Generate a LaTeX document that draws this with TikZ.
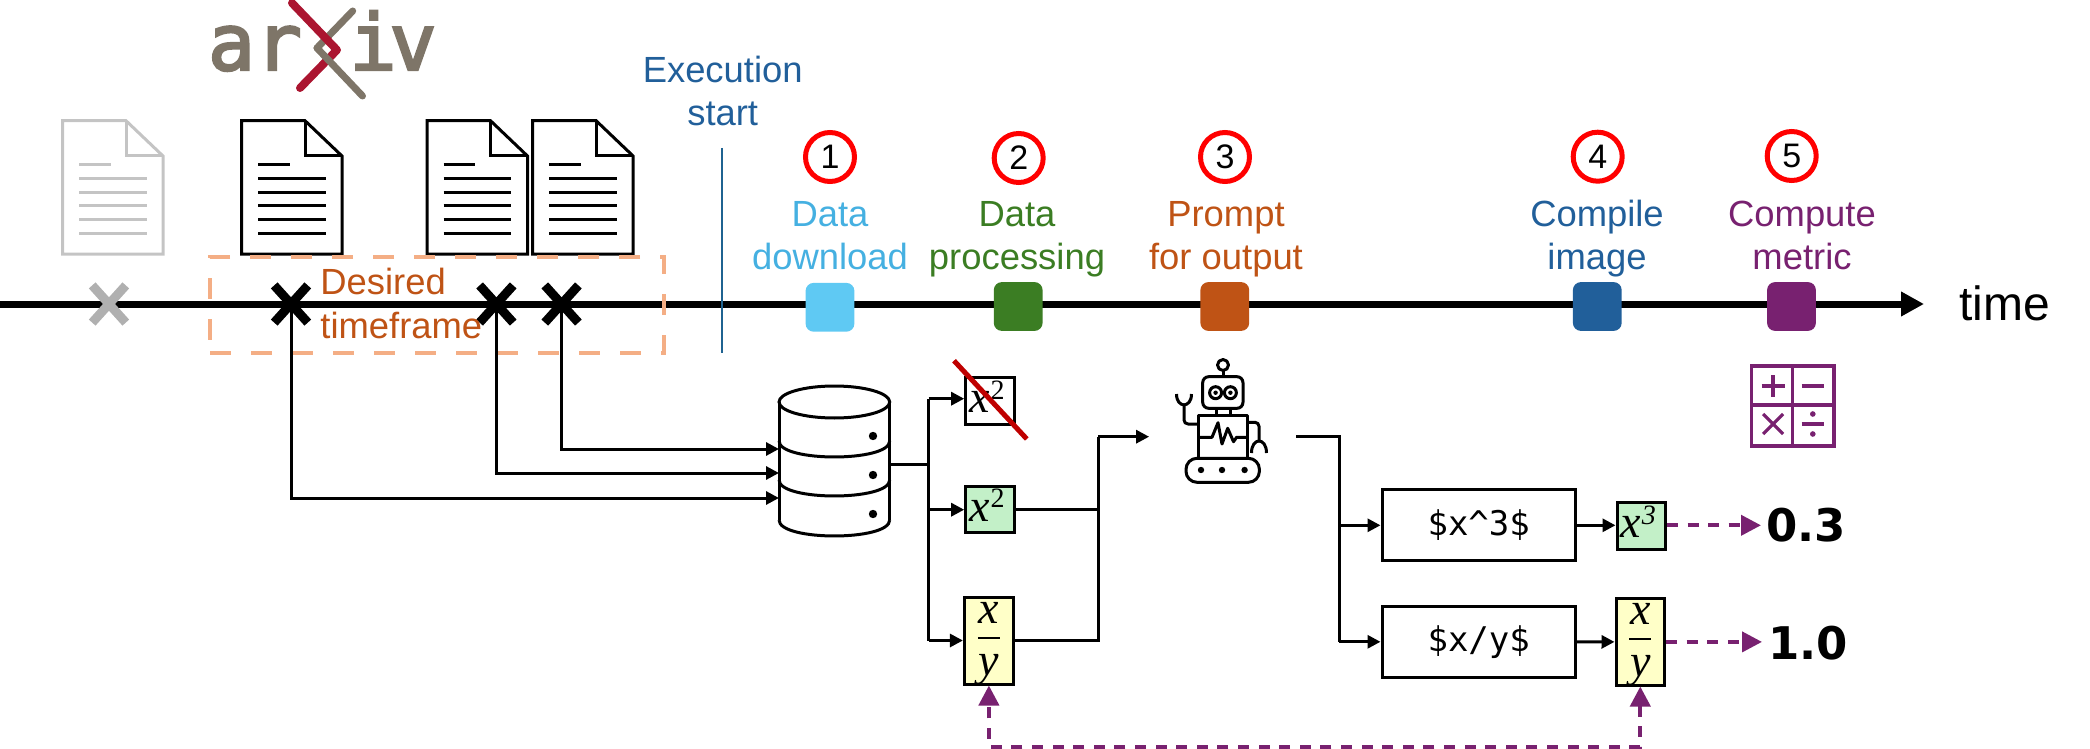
\documentclass[tikz,border=0pt]{standalone}
\usepackage{fontspec}
\setmainfont{Liberation Sans}
\newfontfamily\codefont{DejaVu Sans Mono}
\newfontfamily\logofont[FakeBold=3]{DejaVu Sans Mono}
\newfontfamily\valfont{DejaVu Sans}
\newfontfamily\exprfont{Liberation Serif}
\usetikzlibrary{arrows.meta}
\definecolor{cSky}{HTML}{5FC9F3}
\definecolor{cSkyT}{HTML}{45B0E1}
\definecolor{cGreen}{HTML}{3B7D23}
\definecolor{cOrange}{HTML}{BF5315}
\definecolor{cBlue}{HTML}{215F9A}
\definecolor{cPurple}{HTML}{782170}
\definecolor{cFrame}{HTML}{F4AE85}
\definecolor{cExec}{HTML}{1F6391}
\definecolor{cLogo}{HTML}{7E7568}
\definecolor{cLogoRed}{HTML}{AB1530}
\definecolor{cDocGray}{HTML}{C4C4C4}
\definecolor{cCross}{HTML}{B0B0B0}
\definecolor{cMint}{HTML}{C3F0C8}
\definecolor{cCream}{HTML}{FFFFC8}
\newcommand{\lblsize}{\fontsize{18.2}{21.8}\selectfont}
\newcommand{\mvar}[1]{\hbox{\exprfont\itshape\fontsize{23}{25}\selectfont #1}}
\newcommand{\msup}[2]{\hbox{\mvar{x}\kern0.5pt\raisebox{6.8pt}{\exprfont#2\fontsize{14}{16}\selectfont #1}\kern3pt}}
\newcommand{\mfrac}{${\rule[-5.5pt]{0pt}{5.5pt}\hbox to 11pt{\hss\mvar{x}\hss}\above1.2pt\rule{0pt}{17pt}\hbox to 11pt{\hss\mvar{y}\hss}}$}
\tikzset{
  label text/.style={font=\lblsize, align=center, anchor=base, inner sep=0pt},
  stepmark/.style={draw=red, line width=2.5pt, circle, fill=white, minimum size=24.5pt, inner sep=0pt, font=\fontsize{17}{18}\selectfont},
  stepsq/.style={rectangle, rounded corners=4pt, minimum width=24.4pt, minimum height=24.4pt, inner sep=0pt},
  conn/.style={line width=1.5pt, -{Triangle[length=6.5pt,width=6.5pt]}},
  plain/.style={line width=1.5pt},
  metricarrow/.style={cPurple, line width=2pt, dash pattern=on 5.5pt off 4.8pt, -{Triangle[length=10pt,width=10pt]}},
  exprbox/.style={draw, line width=1.5pt, inner sep=0pt, font=\fontsize{21}{24}\selectfont},
  supbox/.style={exprbox, text height=15.9pt, text depth=4.1pt},
  fracbox/.style={exprbox, text height=23.85pt, text depth=16.15pt},
  promptbox/.style={draw, line width=1.5pt, inner sep=0pt, minimum width=96.7pt, minimum height=35.6pt, font=\codefont\fontsize{17}{18}\selectfont},
  value/.style={anchor=base, inner sep=0pt, font=\valfont\bfseries\fontsize{22.5}{24}\selectfont},
  docpic/.pic={
    \draw[pic actions, line width=1.5pt, line join=miter] (0,0) -- (63.5,0) -- (100.5,35.3) -- (100.5,133.3) -- (0,133.3) -- cycle;
    \draw[pic actions, line width=1.5pt] (63.5,0) -- (63.5,35.3) -- (100.5,35.3);
    \draw[pic actions, line width=1.5pt] (16.5,44.3) -- (48,44.3);
    \foreach \yy in {58.3,71.6,85.3,98.6,112.3} \draw[pic actions, line width=1.5pt] (16.5,\yy) -- (84,\yy);
  },
  crosspic/.pic={
    \draw[pic actions, line width=4.5pt] (-16.8,-18.6) -- (16.8,18.6);
    \draw[pic actions, line width=4.5pt] (-16.8,18.6) -- (16.8,-18.6);
  }
}
\begin{document}
\begin{tikzpicture}[x=0.5pt,y=-0.5pt]
\useasboundingbox (0,0) rectangle (2090,749);

% arXiv logo
\node[anchor=base, inner sep=0pt, text=cLogo, font=\logofont\fontsize{39}{40}\selectfont] (logoA) at (255,70) {ar};
\node[anchor=base, inner sep=0pt, text=cLogo, font=\logofont\fontsize{39}{40}\selectfont] (logoB) at (393,70) {i\kern-3.5pt v};
\draw[cLogo, line width=3.5pt, line cap=round, line join=round] (352.7,11) -- (317,48);
\draw[cLogoRed, line width=4pt, line cap=round, line join=round] (292,3) -- (337,50) -- (300,88);
\draw[cLogo, line width=3.5pt, line cap=round] (317,48) -- (362.5,96);

% documents
\pic[draw=cDocGray] at (62.5,120.7) {docpic};
\pic[draw=black] at (241.5,120.7) {docpic};
\pic[draw=black] at (427,120.7) {docpic};
\pic[draw=black] at (532.6,120.7) {docpic};

% time line
\coordinate (timeStart) at (0,304);
\coordinate (timeEnd) at (1924,304);
\draw[line width=3.5pt, -{Triangle[length=11.5pt,width=11.7pt]}] (timeStart) -- (timeEnd);
\node[draw=cFrame, line width=2pt, dash pattern=on 10.5pt off 10pt, minimum width=227pt, minimum height=48pt, inner sep=0pt] (frame) at (437,305) {};
\coordinate (execTop) at (722,148);
\coordinate (execBot) at (722,353);
\draw[cExec, line width=1.25pt] (execTop) -- (execBot);

% crosses
\coordinate (x0) at (109,304);
\coordinate (x1) at (291,304);
\coordinate (x2) at (496.4,304);
\coordinate (x3) at (561.6,304);
\pic[draw=cCross] at (x0) {crosspic};
\pic[draw=black] at (x1) {crosspic};
\pic[draw=black] at (x2) {crosspic};
\pic[draw=black] at (x3) {crosspic};

% labels
\node[label text, text=cOrange, align=left, anchor=base west] (desired) at (320,338) {Desired\\timeframe};
\node[label text, text=cBlue] (exec) at (722.7,126) {Execution\\start};
\node[label text, text=cSkyT] (l1) at (830,270) {Data\\download};
\node[label text, text=cGreen] (l2) at (1017,270) {Data\\processing};
\node[label text, text=cOrange] (l3) at (1226,270) {Prompt\\for output};
\node[label text, text=cBlue] (l4) at (1597,270) {Compile\\image};
\node[label text, text=cPurple] (l5) at (1802,270) {Compute\\metric};
\node[anchor=base west, inner sep=0pt, font=\fontsize{24}{26}\selectfont] (timeLbl) at (1959,320) {time};

% step markers
\node[stepmark] (c1) at (830,157) {1};
\node[stepmark] (c2) at (1018.7,158) {2};
\node[stepmark] (c3) at (1225,157) {3};
\node[stepmark] (c4) at (1597.7,156.7) {4};
\node[stepmark] (c5) at (1791.7,156) {5};
\node[stepsq, fill=cSky] (s1) at (830,307.3) {};
\node[stepsq, fill=cGreen] (s2) at (1018.2,306.5) {};
\node[stepsq, fill=cOrange] (s3) at (1224.8,306.5) {};
\node[stepsq, fill=cBlue] (s4) at (1597.3,306.5) {};
\node[stepsq, fill=cPurple] (s5) at (1791.5,306.5) {};

% calculator
\begin{scope}[cPurple, line width=1.6pt]
\draw (1751.6,366) rectangle (1833.9,446);
\draw (1792.5,366) -- (1792.5,446);
\draw (1751.6,405) -- (1833.9,405);
\draw (1761.5,386) -- (1784.5,386);
\draw (1773,375) -- (1773,397);
\draw (1801.5,386) -- (1824,386);
\draw (1763,414) -- (1783,434);
\draw (1763,434) -- (1783,414);
\draw (1801.5,424) -- (1824,424);
\fill (1812.8,414) circle (2.8);
\fill (1812.8,434) circle (2.8);
\end{scope}

% database
\node[minimum width=55.3pt, minimum height=1pt, inner sep=0pt] (db) at (834.3,464) {};
\coordinate (dbA) at (779,449);
\coordinate (dbB) at (779,473);
\coordinate (dbC) at (779,498);
\begin{scope}[line width=1.5pt]
\draw (834.35,402) ellipse[x radius=55.35,y radius=16];
\draw (779,402) -- (779,520);
\draw (889.7,402) -- (889.7,520);
\draw (779,441) .. controls (779,462.3) and (889.7,462.3) .. (889.7,441);
\draw (779,480) .. controls (779,501.3) and (889.7,501.3) .. (889.7,480);
\draw (779,520) .. controls (779,541.3) and (889.7,541.3) .. (889.7,520);
\fill (873,436) circle (4.2);
\fill (873,475) circle (4.2);
\fill (873,514) circle (4.2);
\end{scope}
\draw[conn] (x3) |- (dbA);
\draw[conn] (x2) |- (dbB);
\draw[conn] (x1) |- (dbC);

% expressions
\node[supbox, minimum width=24.3pt, minimum height=23.1pt] (e1) at (990,400.9) {\msup{2}{}};
\node[supbox, fill=cMint, minimum width=24.3pt, minimum height=23pt] (e2) at (990,509.7) {\msup{2}{}};
\node[fracbox, fill=cCream, minimum width=24.5pt, minimum height=43.5pt] (e3) at (988.9,640.5) {\mfrac};
\coordinate (strikeA) at (954,360.7);
\coordinate (strikeB) at (1026.8,439);
\draw[red!75!black, line width=2.5pt] (strikeA) -- (strikeB);

% bus out of the database
\coordinate (busTop) at (928.6,398.7);
\coordinate (busBot) at (928.6,640.5);
\coordinate (busMid) at (928.6,464);
\draw[plain] (db.east) -- (busMid);
\draw[plain] (busTop) -- (busBot);
\draw[conn] (busTop) -- (e1.west |- busTop);
\draw[conn] (busMid |- e2.west) -- (e2.west);
\draw[conn] (busBot) -- (e3.west);

% robot
\node[minimum width=73.2pt, minimum height=1pt, inner sep=0pt] (robot) at (1222.7,436.7) {};
\begin{scope}[line width=1.5pt, line join=round]
\draw (1223,365) ellipse[x radius=5.5,y radius=5.5];
\draw (1223,370.5) -- (1223,376.7);
\draw[rounded corners=3pt] (1202.7,376.7) rectangle (1243,408.3);
\draw (1215.6,392.7) circle (6);
\draw (1230.4,392.7) circle (6);
\fill (1215.6,392.7) circle (2.2);
\fill (1230.4,392.7) circle (2.2);
\draw (1216.5,408.3) -- (1216.5,415);
\draw (1230,408.3) -- (1230,415);
\draw (1198.6,415) rectangle (1247,458.3);
\draw (1198.6,437.3) -- (1212,437.3) -- (1218,422.7) -- (1222,444) -- (1227.7,428.3) -- (1233.5,441.7) -- (1236.6,437.3) -- (1247,437.3);
\draw[rounded corners=2pt] (1198.6,424) -- (1184,424) -- (1184,405);
\draw (1176.5,394) .. controls (1176.5,408.5) and (1191.5,408.5) .. (1191.5,394);
\draw[rounded corners=2pt] (1247,422.3) -- (1259,422.3) -- (1259,441.7);
\draw (1251.5,453) .. controls (1251.5,437) and (1266.5,437) .. (1266.5,453);
\draw[rounded corners=5.5pt] (1186,458.3) rectangle (1259.4,482.3);
\fill (1201,470) circle (3.2);
\fill (1222,470) circle (3.2);
\fill (1244.6,470) circle (3.2);
\end{scope}

% into the model
\coordinate (joinIn) at (1098,436.7);
\draw[plain] (e2.east) -| (joinIn);
\draw[plain] (e3.east) -| (joinIn);
\draw[conn] (joinIn) -- (robot.west);

% prompts
\node[promptbox] (p1) at (1478.7,525.3) {\$x\textasciicircum 3\$};
\node[promptbox] (p2) at (1478.7,641.8) {\$x/y\$};
\coordinate (outJoin) at (1339,436.7);
\draw[plain] (robot.east) -- (outJoin) -- (outJoin |- p2.west);
\draw[conn] (outJoin |- p2.west) -- (p2.west);
\draw[conn] (outJoin |- p1.west) -- (p1.west);

% outputs
\node[supbox, fill=cMint, minimum width=24.2pt, minimum height=23.1pt] (o1) at (1641.2,525.9) {\msup{3}{\itshape}};
\node[fracbox, fill=cCream, minimum width=24.3pt, minimum height=43.1pt] (o2) at (1640.3,641.9) {\mfrac};
\draw[conn] (p1.east) -- (o1.west |- p1.east);
\draw[conn] (p2.east) -- (o2.west);

\node[value] (v1) at (1806,541.7) {0.3};
\node[value] (v2) at (1808,659) {1.0};
\coordinate (v1in) at (1761,525.3);
\coordinate (v2in) at (1762,641.9);
\draw[metricarrow] (o1.east |- v1in) -- (v1in);
\draw[metricarrow] (o2.east |- v2in) -- (v2in);
\coordinate (loopCorner) at (988.9,746.7);
\draw[cPurple, line width=2pt, dash pattern=on 5.5pt off 4.8pt, {Triangle[length=10pt,width=10pt]}-{Triangle[length=10pt,width=10pt]}] (o2.south) |- (loopCorner) -- (e3.south);
\end{tikzpicture}
\end{document}
